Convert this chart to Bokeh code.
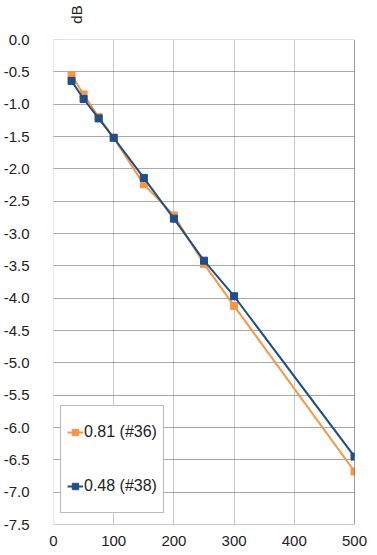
from bokeh.plotting import figure
from bokeh.models import FixedTicker, PrintfTickFormatter, Span, Label, Legend, LegendItem, Range1d
from bokeh.layouts import column
from bokeh.embed import file_html
from bokeh.resources import INLINE

freq = [30, 50, 75, 100, 150, 200, 250, 300, 500]
s36 = [-0.55, -0.85, -1.20, -1.52, -2.24, -2.72, -3.47, -4.12, -6.68]
s38 = [-0.64, -0.92, -1.22, -1.52, -2.14, -2.77, -3.42, -3.97, -6.45]
name36 = "0.81 (#36)"
name38 = "0.48 (#38)"
yticks = [-7.5 + 0.5 * i for i in range(16)]
xticks = [0, 100, 200, 300, 400, 500]
y_unit = "dB"

ORANGE = "#F79646"
BLUE = "#1F4E89"
FONT = "Liberation Sans"
TXT = "#222222"

# small strip on top carrying the rotated unit label
head = figure(width=377, height=31, output_backend="svg", toolbar_location=None,
              x_range=Range1d(0, 377), y_range=Range1d(31, 0),
              x_axis_location=None, y_axis_location=None, min_border=0)
head.grid.visible = False
head.outline_line_color = None
head.add_layout(Label(x=29, y=14, text=y_unit, angle=90, angle_units="deg",
                      text_font=FONT, text_font_size="15px", text_color=TXT,
                      text_align="center", text_baseline="middle"))

p = figure(width=377, height=524, output_backend="svg", toolbar_location=None,
           x_range=(0, 500), y_range=(-7.5, 0.0),
           min_border_left=51, min_border_right=23, min_border_top=8, min_border_bottom=31)
p.outline_line_color = None
p.background_fill_color = "white"

p.xaxis.ticker = FixedTicker(ticks=xticks)
p.yaxis.ticker = FixedTicker(ticks=yticks)
p.yaxis.formatter = PrintfTickFormatter(format="%.1f")
for ax in (p.xaxis[0], p.yaxis[0]):
    ax.axis_line_color = None
    ax.major_tick_line_color = None
    ax.minor_tick_line_color = None
    ax.major_label_text_font = FONT
    ax.major_label_text_font_size = "15px"
    ax.major_label_text_color = TXT
p.xaxis.major_label_standoff = 5
p.yaxis.major_label_standoff = 18

p.xgrid.grid_line_color = "#C8C8C8"
p.xgrid.grid_line_width = 1
p.ygrid.grid_line_color = "#555555"
p.ygrid.grid_line_dash = "1 1"
p.ygrid.grid_line_width = 1

p.add_layout(Span(location=0.0, dimension="width", line_color="#C8C8C8", line_width=1))
p.add_layout(Span(location=-7.5, dimension="width", line_color="#999999", line_width=1))
p.add_layout(Span(location=500, dimension="height", line_color="#444444", line_width=1))
p.add_layout(Span(location=0, dimension="height", line_color="#AAAAAA", line_width=1, line_dash="1 1"))

l1 = p.line(freq, s36, line_color=ORANGE, line_width=2)
m1 = p.scatter(freq, s36, marker="square", size=7, fill_color=ORANGE, line_color=ORANGE)
l2 = p.line(freq, s38, line_color=BLUE, line_width=2)
m2 = p.scatter(freq, s38, marker="square", size=7, fill_color=BLUE, line_color=BLUE)

legend = Legend(items=[LegendItem(label=name36, renderers=[l1, m1]),
                       LegendItem(label=name38, renderers=[l2, m2])],
                location=(7, 11))
legend.label_text_font = FONT
legend.label_text_font_size = "16px"
legend.label_text_color = TXT
legend.border_line_color = "#777777"
legend.border_line_width = 1
legend.background_fill_alpha = 1.0
legend.label_height = 40
legend.glyph_height = 40
legend.spacing = 14
legend.padding = 6
legend.margin = 0
legend.glyph_width = 16
legend.label_standoff = 1
p.add_layout(legend, "center")

layout = column(head, p, spacing=0)
open("out.html", "w").write(file_html(layout, INLINE))
